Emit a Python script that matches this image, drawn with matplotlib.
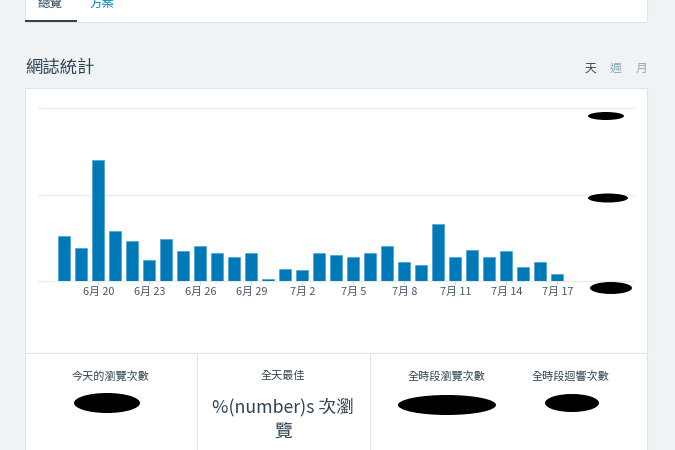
import matplotlib
matplotlib.use('Agg')
import matplotlib.pyplot as plt
from matplotlib.patches import Rectangle, Ellipse

plt.rcParams['font.family'] = ['Noto Sans CJK TC', 'DejaVu Sans']

# ------------------------------------------------------------
# data : daily views 6/18 -> 7/17 (y scale labels are redacted)
# ------------------------------------------------------------
days = ['6月 18', '6月 19', '6月 20', '6月 21', '6月 22', '6月 23', '6月 24', '6月 25',
        '6月 26', '6月 27', '6月 28', '6月 29', '6月 30', '7月 1', '7月 2', '7月 3',
        '7月 4', '7月 5', '7月 6', '7月 7', '7月 8', '7月 9', '7月 10', '7月 11',
        '7月 12', '7月 13', '7月 14', '7月 15', '7月 16', '7月 17']
views = [26, 19, 70, 29, 23, 12, 24, 17, 20, 16, 14, 16, 1, 7, 6, 16,
         15, 14, 16, 20, 11, 9, 33, 14, 18, 14, 17, 8, 11, 4]
grid_vals = [0, 50, 100]
stat_labels = ['今天的瀏覽次數', '全天最佳', '全時段瀏覽次數', '全時段迴響次數']

W, H = 675, 450
bg = '#f0f3f6'
border = '#dde5ec'
dark = '#2e4453'

fig = plt.figure(figsize=(W / 100, H / 100), dpi=100)
fig.patch.set_facecolor(bg)

def fx(px):
    return px / W

def fy(py):
    return 1 - py / H

def rect(x0, y0, x1, y1, fc, ec='none', lw=0):
    fig.patches.append(Rectangle((fx(x0), fy(y1)), fx(x1) - fx(x0), fy(y0) - fy(y1),
                                 transform=fig.transFigure, facecolor=fc,
                                 edgecolor=ec, linewidth=lw, zorder=0))

def blob(cx, cy, w, h):
    fig.patches.append(Ellipse((fx(cx), fy(cy)), fx(w), h / H,
                               transform=fig.transFigure, facecolor='black',
                               edgecolor='none', zorder=5))

# top tab panel
rect(25, -5, 647, 22, 'white', border, 0.8)
rect(25, 19.5, 77, 22, dark)
fig.text(fx(50), fy(3), '總覽', fontsize=9, color=dark, ha='center', va='center')
fig.text(fx(102), fy(3), '方案', fontsize=9, color='#0087be', ha='center', va='center')

# section title
fig.text(fx(25), fy(68), '網誌統計', fontsize=12.5, color=dark, ha='left', va='center')
fig.text(fx(590), fy(68), '天', fontsize=8.5, color=dark, ha='center', va='center')
fig.text(fx(616), fy(68), '週', fontsize=8.5, color='#87a6bc', ha='center', va='center')
fig.text(fx(641), fy(68), '月', fontsize=8.5, color='#87a6bc', ha='center', va='center')

# chart panel
rect(25, 88, 647, 460, 'white', border, 0.8)
fig.lines.append(plt.Line2D([fx(25), fx(647)], [fy(353), fy(353)],
                            transform=fig.transFigure, color=border, lw=0.8))
for xd in [197, 370]:
    fig.lines.append(plt.Line2D([fx(xd), fx(xd)], [fy(353), fy(460)],
                                transform=fig.transFigure, color=border, lw=0.8))

# bar chart
base_px, top_px = 280.7, 100
ax = fig.add_axes([fx(38), fy(base_px), fx(633) - fx(38), (base_px - top_px) / H])
ax.set_zorder(3)
ax.set_facecolor('none')
x = list(range(len(views)))
ax.bar(x, views, width=0.69, color='#0079b8', edgecolor='#3d9bcc', linewidth=0.4, zorder=3)
for g in grid_vals:
    ax.axhline(g, color='#e6edf2', lw=1, zorder=1, clip_on=False)
ax.set_xlim(-1.55, 33.45)
ax.set_ylim(0, 100 * (base_px - top_px) / (base_px - 108.3))
ax.set_yticks([])
ax.set_xticks(x[2::3])
ax.set_xticklabels(days[2::3], fontsize=7.8, color='#4a5866')
ax.tick_params(axis='x', length=3, width=0.6, color='#c8d7e1', pad=1.5)
for s in ax.spines.values():
    s.set_visible(False)

# redacted y labels
blob(606, 116, 36, 8)
blob(608, 198, 40, 9)
blob(611, 288, 42, 12)

# stats row
for lab, cx in zip(stat_labels, [111, 283, 446, 570]):
    fig.text(fx(cx), fy(376), lab, fontsize=8, color=dark, ha='center', va='center')
fig.text(fx(283), fy(407), '%(number)s 次瀏', fontsize=12.8, color=dark, ha='center', va='center')
fig.text(fx(283), fy(433), '覽', fontsize=12.8, color=dark, ha='center', va='center')
blob(107, 403, 66, 20)
blob(447, 405, 98, 20)
blob(572, 403, 54, 18)

fig.savefig('out.png', dpi=100, facecolor=fig.get_facecolor())
